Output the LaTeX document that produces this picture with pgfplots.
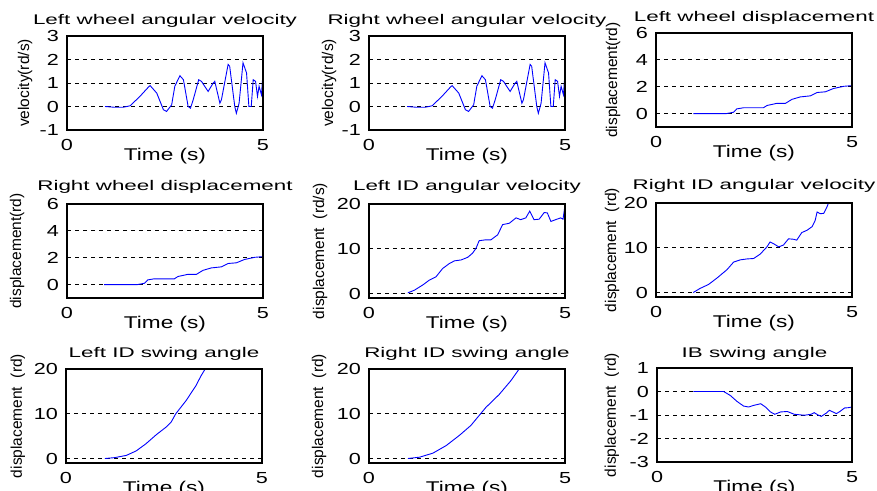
\documentclass[border=0pt]{standalone}
\usepackage{fontspec}
\setmainfont{Liberation Sans}
\newfontfamily\titlefont[FakeStretch=1.6]{Liberation Sans}
\newfontfamily\tickfont[FakeStretch=1.35]{Liberation Sans}
\newfontfamily\labfont[FakeStretch=1.33]{Liberation Sans}
\usepackage{pgfplots}
\usepackage{pgfplotstable}
\pgfplotsset{compat=1.18}
\definecolor{mblue}{RGB}{35,70,255}

% wheel angular velocity (left and right look the same)
\pgfplotstableread{
t v
0.97 0
1.19 -0.03
1.44 -0.03
1.61 0.03
1.86 0.43
2.08 0.83
2.12 0.89
2.29 0.57
2.46 -0.14
2.54 -0.21
2.67 0.07
2.75 0.86
2.88 1.31
2.97 1.14
3.09 0
3.15 -0.07
3.22 0.29
3.36 1.14
3.43 1.07
3.60 0.64
3.73 1.0
3.77 1.07
3.90 0.14
3.94 0.29
4.11 1.79
4.15 1.71
4.28 0
4.32 -0.29
4.39 0.14
4.49 1.86
4.58 1.43
4.64 0
4.70 0
4.75 1.14
4.81 1.07
4.86 0.43
4.90 0.86
4.96 0.5
5.0 1.43
}\wheelvel

% wheel displacement
\pgfplotstableread{
t d
0.95 0
1.80 0
1.98 0.1
2.06 0.35
2.23 0.43
2.74 0.43
2.83 0.6
3.08 0.76
3.30 0.76
3.47 1.06
3.68 1.24
3.94 1.32
4.11 1.57
4.32 1.62
4.53 1.87
4.79 2.03
5.0 2.08
}\wheeldisp

\pgfplotsset{
  panel/.style={
    scale only axis, width=196pt, height=94pt, anchor=north west,
    xmin=0, xmax=5, xtick={0,5}, xticklabels={0,5},
    axis line style={line width=1.5pt},
    major tick length=0pt,
    no marks,
    ymajorgrids,
    grid style={black, dash pattern=on 4pt off 4pt, line width=0.8pt},
    tick label style={font=\tickfont\fontsize{16}{16}\selectfont},
    xticklabel style={anchor=base, yshift=-20.5pt},
    yticklabel style={anchor=east, inner xsep=0pt, xshift=-8pt},
    every axis title/.style={at={(axis description cs:0.5,1)}, anchor=base,
      yshift=11pt, font=\titlefont\fontsize{14}{14}\selectfont},
    every axis x label/.style={at={(axis description cs:0.5,0)}, anchor=base,
      yshift=-30.5pt, font=\labfont\fontsize{17}{17}\selectfont},
    xlabel={Time (s)},
    every axis plot/.append style={mblue, line width=0.9pt},
    after end axis/.code={
      \draw[black, line width=1.9pt] (rel axis cs:0,0) rectangle (rel axis cs:1,1);},
  },
  yl/.style={every axis y label/.style={at={(axis description cs:#1,0.5)},
      rotate=90, anchor=center, font=\fontsize{15.5}{15.5}\selectfont}},
}

\begin{document}
\begin{tikzpicture}
\useasboundingbox (0,0) rectangle (877pt,490pt);

% row 1
\begin{axis}[panel, at={(67pt,454pt)}, yl=-0.214,
  title={Left wheel angular velocity}, ylabel={velocity(rd/s)},
  ymin=-1, ymax=3, ytick={-1,0,1,2,3}, yticklabels={-1,0,1,2,3}]
\addplot table[x=t,y=v] {\wheelvel};
\end{axis}

\begin{axis}[panel, at={(369pt,454pt)}, yl=-0.204,
  title={Right wheel angular velocity}, ylabel={velocity(rd/s)},
  ymin=-1, ymax=3, ytick={-1,0,1,2,3}, yticklabels={-1,0,1,2,3}]
\addplot table[x=t,y=v] {\wheelvel};
\end{axis}

\begin{axis}[panel, at={(656pt,457pt)}, yl=-0.219,
  title={Left wheel displacement}, ylabel={displacement(rd)},
  ymin=-1, ymax=6, ytick={0,2,4,6}, yticklabels={0,2,4,6}]
\addplot table[x=t,y=d] {\wheeldisp};
\end{axis}

% row 2
\begin{axis}[panel, at={(67pt,286pt)}, yl=-0.255,
  title={Right wheel displacement}, ylabel={displacement(rd)},
  every axis title/.append style={yshift=2pt},
  ymin=-1, ymax=6, ytick={0,2,4,6}, yticklabels={0,2,4,6}]
\addplot table[x=t,y=d] {\wheeldisp};
\end{axis}

\begin{axis}[panel, at={(369pt,286pt)}, yl=-0.25,
  title={Left ID angular velocity}, ylabel={displacement\ \ (rd/s)},
  every axis title/.append style={yshift=2pt},
  ymin=-1, ymax=20, ytick={0,10,20}, yticklabels={0,10,20}]
\addplot coordinates {
(0.99,0.15)(1.16,0.75)(1.37,1.9)(1.54,3.0)(1.71,3.75)(1.88,5.6)(2.05,6.7)
(2.18,7.3)(2.35,7.5)(2.52,8.1)(2.64,9.0)(2.73,10.1)(2.81,11.8)(2.98,12.0)
(3.11,12.0)(3.28,13.1)(3.41,15.4)(3.58,15.7)(3.75,16.9)(3.87,16.5)(4.0,16.9)
(4.1,18.4)(4.21,16.5)(4.34,16.6)(4.47,18.1)(4.55,18.0)(4.64,16.1)(4.76,16.5)
(4.89,16.9)(4.95,16.6)(5.0,19.8)
};
\end{axis}

\begin{axis}[panel, at={(656pt,287pt)}, yl=-0.224,
  title={Right ID angular velocity}, ylabel={displacement\ \ (rd)},
  every axis title/.append style={yshift=2pt},
  ymin=-1, ymax=20, ytick={0,10,20}, yticklabels={0,10,20}]
\addplot coordinates {
(0.95,0)(1.12,0.9)(1.34,1.8)(1.55,3.2)(1.81,5.1)(1.98,6.8)(2.15,7.3)(2.32,7.5)
(2.49,7.6)(2.66,8.6)(2.83,10.2)(2.91,11.3)(3.0,10.9)(3.13,10.2)(3.25,10.6)
(3.38,12.0)(3.51,11.9)(3.59,11.7)(3.72,13.4)(3.85,13.9)(3.98,14.7)(4.06,16.1)
(4.11,18.0)(4.19,17.6)(4.28,17.7)(4.36,19.1)(4.40,20.0)(4.45,21.0)
};
\end{axis}

% row 3
\begin{axis}[panel, at={(66pt,121pt)}, yl=-0.245,
  title={Left ID swing angle}, ylabel={displacement\ \ (rd)},
  ymin=-1, ymax=20, ytick={0,10,20}, yticklabels={0,10,20}]
\addplot coordinates {
(0.99,0)(1.24,0.2)(1.54,0.7)(1.79,1.7)(2.04,3.3)(2.30,5.3)(2.55,7.0)(2.68,8.1)
(2.80,10.0)(3.06,12.9)(3.31,16.2)(3.44,18.4)(3.55,20.0)(3.61,21.0)
};
\end{axis}

\begin{axis}[panel, at={(369pt,121pt)}, yl=-0.255,
  title={Right ID swing angle}, ylabel={displacement\ \ (rd)},
  ymin=-1, ymax=20, ytick={0,10,20}, yticklabels={0,10,20}]
\addplot coordinates {
(0.99,0)(1.29,0.3)(1.63,1.2)(1.97,2.9)(2.31,5.2)(2.60,7.4)(2.77,9.2)(2.98,11.4)
(3.32,14.3)(3.62,17.4)(3.83,20.0)(3.89,20.8)
};
\end{axis}

\begin{axis}[panel, width=195pt, at={(657pt,122pt)}, yl=-0.231,
  title={IB swing angle}, ylabel={displacement\ \ (rd)},
  ymin=-3, ymax=1, ytick={-3,-2,-1,0,1}, yticklabels={-3,-2,-1,0,1}]
\addplot coordinates {
(0.93,0)(1.71,0)(1.88,-0.17)(2.05,-0.42)(2.22,-0.62)(2.35,-0.66)(2.48,-0.59)
(2.66,-0.52)(2.78,-0.66)(2.91,-0.87)(3.02,-0.97)(3.17,-0.87)(3.34,-0.85)
(3.52,-0.97)(3.78,-1.01)(3.95,-0.97)(4.03,-0.90)(4.12,-0.99)(4.21,-1.06)
(4.34,-0.92)(4.42,-0.80)(4.51,-0.87)(4.60,-0.94)(4.69,-0.85)(4.81,-0.70)
(4.90,-0.69)(5.0,-0.66)
};
\end{axis}
\end{tikzpicture}
\end{document}
